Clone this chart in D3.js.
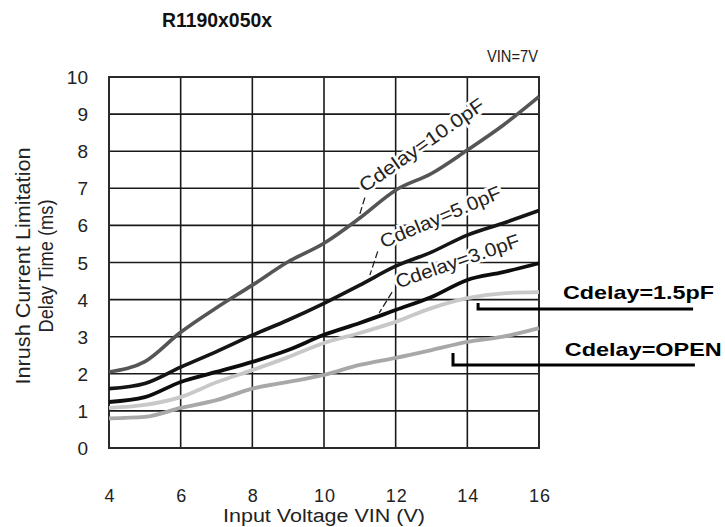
<!DOCTYPE html>
<html>
<head>
<meta charset="utf-8">
<script src="https://cdn.jsdelivr.net/npm/d3@7"></script>
<style>
  html, body { margin: 0; padding: 0; background: #fff; }
  svg { display: block; }
  text { font-family: "Liberation Sans", Arial, sans-serif; }
</style>
</head>
<body>
<svg id="chart" width="725" height="527"></svg>
<script>
// ---- data ----
const volts = [4, 5, 6, 7, 8, 9, 10, 11, 12, 13, 14, 15, 16];
const cdelay10 = [2.05, 2.33, 3.12, 3.78, 4.39, 5.02, 5.52, 6.2, 6.95, 7.4, 8.03, 8.7, 9.47];
const cdelay5 = [1.6, 1.74, 2.18, 2.6, 3.04, 3.45, 3.9, 4.39, 4.9, 5.28, 5.74, 6.06, 6.4];
const cdelay3 = [1.24, 1.37, 1.78, 2.05, 2.32, 2.64, 3.05, 3.37, 3.72, 4.07, 4.53, 4.74, 4.98];
const cdelay15 = [1.08, 1.16, 1.37, 1.77, 2.1, 2.45, 2.83, 3.1, 3.4, 3.77, 4.04, 4.17, 4.2];
const cdelayOpen = [0.8, 0.84, 1.08, 1.29, 1.6, 1.78, 1.97, 2.24, 2.43, 2.64, 2.86, 3.0, 3.23];
const seriesNames = ["Cdelay=10.0pF", "Cdelay=5.0pF", "Cdelay=3.0pF", "Cdelay=1.5pF", "Cdelay=OPEN"];
const xTicks = [4, 6, 8, 10, 12, 14, 16];
const yTicks = [0, 1, 2, 3, 4, 5, 6, 7, 8, 9, 10];
const title = "R1190x050x";
const condition = "VIN=7V";
const xTitle = "Input Voltage VIN (V)";
const yTitle = ["Inrush Current Limitation", "Delay Time (ms)"];

// ---- layout ----
const svg = d3.select("#chart");
const x = d3.scaleLinear().domain([4, 16]).range([109, 539]);
const y = d3.scaleLinear().domain([0, 10]).range([448, 77]);

const styles = [
  { color: "#555555", width: 3.6 },
  { color: "#151515", width: 3.6 },
  { color: "#0d0d0d", width: 3.8 },
  { color: "#c8c8c8", width: 3.8 },
  { color: "#a8a8a8", width: 3.8 }
];
const allSeries = [cdelay10, cdelay5, cdelay3, cdelay15, cdelayOpen];

// title
svg.append("text").attr("x", 217).attr("y", 27).attr("text-anchor", "middle")
  .attr("font-size", 20).attr("font-weight", "bold").attr("fill", "#111")
  .attr("textLength", 110).attr("lengthAdjust", "spacingAndGlyphs").text(title);

// condition
svg.append("text").attr("x", 487).attr("y", 62)
  .attr("font-size", 17).attr("fill", "#222")
  .attr("textLength", 51).attr("lengthAdjust", "spacingAndGlyphs").text(condition);

// grid
const g = svg.append("g");
g.selectAll("line.h").data(yTicks.filter(d => d > 0 && d < 10)).enter().append("line")
  .attr("x1", x(4)).attr("x2", x(16)).attr("y1", d => y(d)).attr("y2", d => y(d))
  .attr("stroke", "#1a1a1a").attr("stroke-width", 1.6);
g.selectAll("line.v").data(xTicks.filter(d => d > 4 && d < 16)).enter().append("line")
  .attr("y1", y(0)).attr("y2", y(10)).attr("x1", d => x(d)).attr("x2", d => x(d))
  .attr("stroke", "#1a1a1a").attr("stroke-width", 1.6);
g.append("rect").attr("x", x(4)).attr("y", y(10)).attr("width", x(16) - x(4)).attr("height", y(0) - y(10))
  .attr("fill", "none").attr("stroke", "#2a2a2a").attr("stroke-width", 2);

// tick labels
svg.append("g").selectAll("text").data(yTicks).enter().append("text")
  .attr("x", 88).attr("y", d => y(d) + 7).attr("text-anchor", "end")
  .attr("font-size", 19).attr("fill", "#222").text(d => d);
svg.append("g").selectAll("text").data(xTicks).enter().append("text")
  .attr("x", d => x(d) + 1).attr("y", 502).attr("text-anchor", "middle")
  .attr("font-size", 18).attr("fill", "#222").attr("letter-spacing", 1).text(d => d);

// axis titles
svg.append("text").attr("x", 324).attr("y", 522).attr("text-anchor", "middle")
  .attr("font-size", 18).attr("fill", "#222").attr("textLength", 202).attr("lengthAdjust", "spacingAndGlyphs").text(xTitle);
svg.append("text").attr("transform", "translate(30,266) rotate(-90)").attr("text-anchor", "middle")
  .attr("font-size", 20).attr("fill", "#222").attr("textLength", 237).attr("lengthAdjust", "spacingAndGlyphs").text(yTitle[0]);
svg.append("text").attr("transform", "translate(53,266) rotate(-90)").attr("text-anchor", "middle")
  .attr("font-size", 20).attr("fill", "#222").attr("textLength", 133).attr("lengthAdjust", "spacingAndGlyphs").text(yTitle[1]);

// in-plot labels (rotated), anchored in data units
const inLabels = [
  { i: 0, v: 11.14, t: 6.88, angle: -35, len: 148, lead: [[11.14, 6.75], [10.95, 6.15]] },
  { i: 1, v: 11.65, t: 5.38, angle: -23, len: 130, lead: [[11.5, 5.3], [11.28, 4.66]] },
  { i: 2, v: 12.07, t: 4.3, angle: -19, len: 130, lead: [[11.9, 4.2], [11.54, 3.64]] }
];
const lab = svg.append("g");
inLabels.forEach(d => {
  lab.append("text")
    .attr("transform", `translate(${x(d.v)},${y(d.t)}) rotate(${d.angle})`)
    .attr("font-size", 19).attr("fill", "#222")
    .attr("stroke", "#fff").attr("stroke-width", 5).attr("paint-order", "stroke")
    .attr("textLength", d.len).attr("lengthAdjust", "spacingAndGlyphs")
    .text(seriesNames[d.i]);
  lab.append("line")
    .attr("x1", x(d.lead[0][0])).attr("y1", y(d.lead[0][1]))
    .attr("x2", x(d.lead[1][0])).attr("y2", y(d.lead[1][1]))
    .attr("stroke", "#222").attr("stroke-width", 1.3).attr("stroke-dasharray", "7,3");
});

// curves
const line = d3.line().x((d, i) => x(volts[i])).y(d => y(d)).curve(d3.curveMonotoneX);
const cg = svg.append("g");
[4, 3, 2, 1, 0].forEach(k => {
  cg.append("path").datum(allSeries[k]).attr("d", line)
    .attr("fill", "none").attr("stroke", styles[k].color).attr("stroke-width", styles[k].width)
    .attr("stroke-linejoin", "round").attr("stroke-linecap", "butt");
});

// outside callouts
const callouts = [
  { i: 3, v0: 14.3, t0: 3.91, t1: 3.75, vEnd: 20.3, tv: 16.67, tt: 4.02 },
  { i: 4, v0: 13.6, t0: 2.56, t1: 2.24, vEnd: 20.35, tv: 16.72, tt: 2.48 }
];
const co = svg.append("g");
callouts.forEach(d => {
  co.append("path")
    .attr("d", `M${x(d.v0)},${y(d.t0)}L${x(d.v0)},${y(d.t1)}L${x(d.vEnd)},${y(d.t1)}`)
    .attr("fill", "none").attr("stroke", "#000").attr("stroke-width", 3);
  co.append("text").attr("x", x(d.tv)).attr("y", y(d.tt))
    .attr("font-size", 19).attr("font-weight", "bold").attr("fill", "#000")
    .attr("textLength", d.i === 3 ? 151 : 157).attr("lengthAdjust", "spacingAndGlyphs")
    .text(seriesNames[d.i]);
});
</script>
</body>
</html>
